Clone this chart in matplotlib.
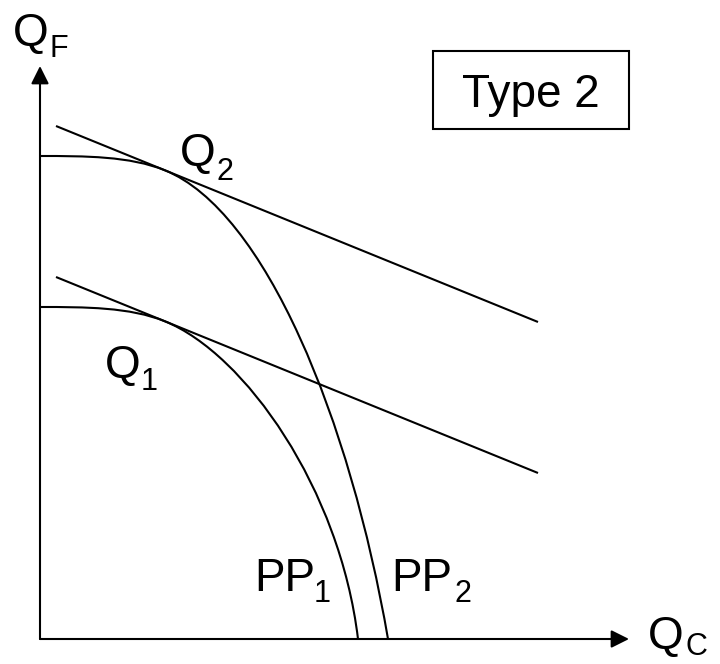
import numpy as np
import matplotlib
matplotlib.use("Agg")
import matplotlib.pyplot as plt
from matplotlib.path import Path
from matplotlib.patches import PathPatch, Rectangle

plt.rcParams['font.family'] = ['Liberation Sans', 'DejaVu Sans']

# ---- data (diagram units, origin at the axes corner) ----
axis_x_end = 589
axis_y_end = 573

# tangent (price) lines: x range and y values at both ends
line_x = [16, 498]
line1_y = [362, 166]
line2_y = [513, 317]

# production possibility frontiers (Bezier controls)
tangent_x = 125
pp1_start = (0, 332)
pp1_c1x = 45
pp1_c2d = 35
pp1_c3d = 80
pp1_c4 = (300, 150)
pp1_end = (318, 0)

pp2_start = (0, 483)
pp2_c1x = 45
pp2_c2d = 35
pp2_c3d = 100
pp2_c4 = (310, 220)
pp2_end = (348, 0)

box_xy = (393, 510)
box_wh = (196, 78)
box_label = "Type 2"

LW = 1.5
MAIN = 33
SUB = 22

fig = plt.figure(figsize=(7.2, 6.64), dpi=100)
ax = fig.add_axes([0, 0, 1, 1])
ax.set_xlim(-40, 680)
ax.set_ylim(-25, 639)
ax.axis('off')

# axes with arrows
ax.annotate('', xy=(axis_x_end, 0), xytext=(0, 0),
            arrowprops=dict(arrowstyle='-|>', color='black', lw=LW,
                            mutation_scale=27, shrinkA=0, shrinkB=0))
ax.annotate('', xy=(0, axis_y_end), xytext=(0, 0),
            arrowprops=dict(arrowstyle='-|>', color='black', lw=LW,
                            mutation_scale=27, shrinkA=0, shrinkB=0))

# tangent lines
ax.plot(line_x, line1_y, color='black', lw=LW, solid_capstyle='butt')
ax.plot(line_x, line2_y, color='black', lw=LW, solid_capstyle='butt')


def frontier(start, c1x, c2d, c3d, c4, end, ly):
    slope = (ly[1] - ly[0]) / (line_x[1] - line_x[0])
    ty = np.interp(tangent_x, line_x, ly)
    d = np.array([1.0, slope])
    T = np.array([tangent_x, ty])
    verts = [start, (c1x, start[1]), tuple(T - c2d * d), tuple(T),
             tuple(T + c3d * d), c4, end]
    codes = [Path.MOVETO] + [Path.CURVE4] * 6
    return PathPatch(Path(verts, codes), fill=False, lw=LW, edgecolor='black')


ax.add_patch(frontier(pp1_start, pp1_c1x, pp1_c2d, pp1_c3d, pp1_c4, pp1_end, line1_y))
ax.add_patch(frontier(pp2_start, pp2_c1x, pp2_c2d, pp2_c3d, pp2_c4, pp2_end, line2_y))

# box
ax.add_patch(Rectangle(box_xy, box_wh[0], box_wh[1], fill=False, lw=LW, edgecolor='black'))
ax.text(box_xy[0] + box_wh[0] / 2, 532, box_label, fontsize=MAIN, ha='center', va='baseline')


def label(x, y, main, sx, sy, sub):
    ax.text(x, y, main, fontsize=MAIN, ha='left', va='baseline')
    ax.text(sx, sy, sub, fontsize=SUB, ha='left', va='baseline')


label(-27, 593, 'Q', 9.5, 582, 'F')
label(608, -10, 'Q', 645.5, -16, 'C')
label(140, 473, 'Q', 177, 459, '2')
label(65, 261, 'Q', 100.6, 249, '1')
label(214.5, 48, 'PP', 274, 37, '1')
label(351.5, 48, 'PP', 414, 37, '2')

fig.savefig('out.png', dpi=100)
